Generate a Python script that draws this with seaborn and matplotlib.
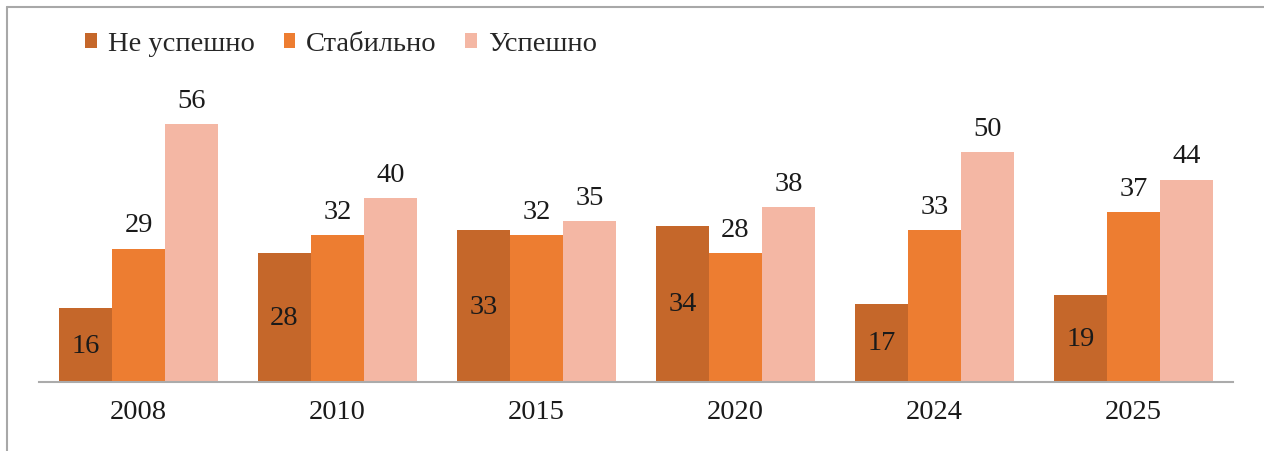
#!/usr/bin/env python3
"""
Grouped bar chart: Не успешно / Стабильно / Успешно by year
"""
import matplotlib
matplotlib.use('Agg')
import matplotlib.pyplot as plt
from matplotlib.lines import Line2D
import pandas as pd
import seaborn as sns

years = ['2008', '2010', '2015', '2020', '2024', '2025']
series = ['Не успешно', 'Стабильно', 'Успешно']
not_success = [16, 28, 33, 34, 17, 19]
stable = [29, 32, 32, 28, 33, 37]
success = [56, 40, 35, 38, 50, 44]
colors = ['#C5672A', '#ED7D31', '#F4B7A4']

rows = []
for name, vals in zip(series, [not_success, stable, success]):
    for y, v in zip(years, vals):
        rows.append({'year': y, 'group': name, 'value': v})
df = pd.DataFrame(rows)

sns.set_style('white')
plt.rcParams['font.family'] = ['Liberation Serif', 'DejaVu Serif']
FS = 20.5

fig = plt.figure(figsize=(12.64, 4.52), dpi=100)
ax = fig.add_axes([39 / 1264, 69 / 452, 1194 / 1264, 276 / 452])

sns.barplot(data=df, x='year', y='value', hue='group', order=years,
            hue_order=series, palette=colors, width=0.8, saturation=1,
            edgecolor='none', linewidth=0, ax=ax)

ax.set_ylim(0, 60)
ax.set_xlim(-0.5, len(years) - 0.5)

# Labels: first series inside the bar, the others above
for i, cont in enumerate(ax.containers):
    if i == 0:
        ax.bar_label(cont, label_type='center', fontsize=FS, color='#1a1a1a')
    else:
        ax.bar_label(cont, label_type='edge', padding=8, fontsize=FS,
                     color='#1a1a1a')

for s in ['top', 'right', 'left']:
    ax.spines[s].set_visible(False)
ax.spines['bottom'].set_color('#ABABAB')
ax.spines['bottom'].set_linewidth(1.5)
ax.set_yticks([])
ax.set_xlabel('')
ax.set_ylabel('')
ax.tick_params(axis='x', length=0, pad=12, labelsize=FS, labelcolor='#1a1a1a')

leg = ax.legend(loc='upper left', bbox_to_anchor=(74 / 1264, 1 - 21 / 452),
                bbox_transform=fig.transFigure, ncol=3, frameon=False,
                fontsize=FS, handlelength=0.42, handleheight=0.42,
                handletextpad=0.38, columnspacing=1.0, borderaxespad=0)

# chart frame (cropped on right and bottom)
fig.add_artist(Line2D([7 / 1264, 1], [1 - 8 / 452, 1 - 8 / 452],
                      color='#A8A8A8', linewidth=1.5,
                      transform=fig.transFigure))
fig.add_artist(Line2D([7 / 1264, 7 / 1264], [0, 1 - 8 / 452],
                      color='#A8A8A8', linewidth=1.5,
                      transform=fig.transFigure))

fig.savefig('out.png', dpi=100)
plt.close(fig)
